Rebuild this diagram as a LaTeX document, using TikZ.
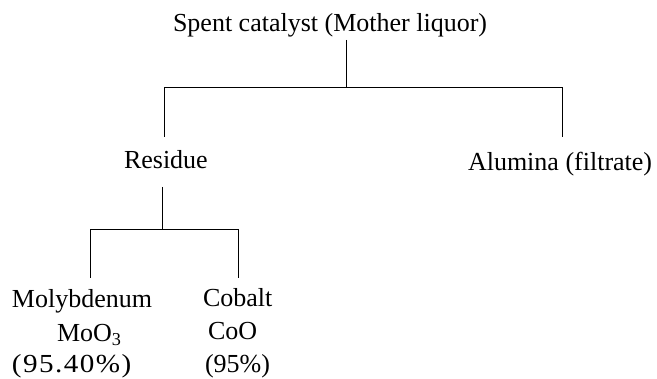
\documentclass[tikz,border=0pt]{standalone}
\usepackage{fontspec}
\setmainfont{Liberation Serif}
\begin{document}
\begin{tikzpicture}[x=1pt,y=-1pt,
  lbl/.style={anchor=base west,inner sep=0pt,outer sep=0pt,font=\fontsize{26}{30}\selectfont},
  tree/.style={line width=1pt}]
\useasboundingbox (0,0) rectangle (657,379);
% texts
\node[lbl] (top) at (173,32) {Spent catalyst (Mother liquor)};
\node[lbl] (residue) at (124,169) {Residue};
\node[lbl] (alumina) at (468,171) {Alumina (filtrate)};
\node[lbl] (moly) at (12,308) {Molybdenum};
\node[lbl] (mooxide) at (57,342) {MoO\textsubscript{3}};
\node[lbl] (molypct) at (12,373) {\scalebox{1.12}[1]{\addfontfeature{LetterSpace=5}(95.40\%)}};
\node[lbl] (cobalt) at (203,307) {Cobalt};
\node[lbl] (coo) at (208,340) {CoO};
\node[lbl] (copct) at (205,373) {(95\%)};
% junction coordinates
\coordinate (t1) at (346,40);
\coordinate (j1) at (346,88);
\coordinate (jl) at (164,88);
\coordinate (jr) at (562,88);
\coordinate (el) at (164,137);
\coordinate (er) at (562,137);
\coordinate (r1) at (162,187);
\coordinate (j2) at (162,230);
\coordinate (kl) at (90,230);
\coordinate (kr) at (238,230);
\coordinate (fl) at (90,278);
\coordinate (fr) at (238,278);
% connectors
\draw[tree] (t1) -- (j1);
\draw[tree] (el) -- (jl) -- (jr) -- (er);
\draw[tree] (r1) -- (j2);
\draw[tree] (fl) -- (kl) -- (kr) -- (fr);
\end{tikzpicture}
\end{document}
